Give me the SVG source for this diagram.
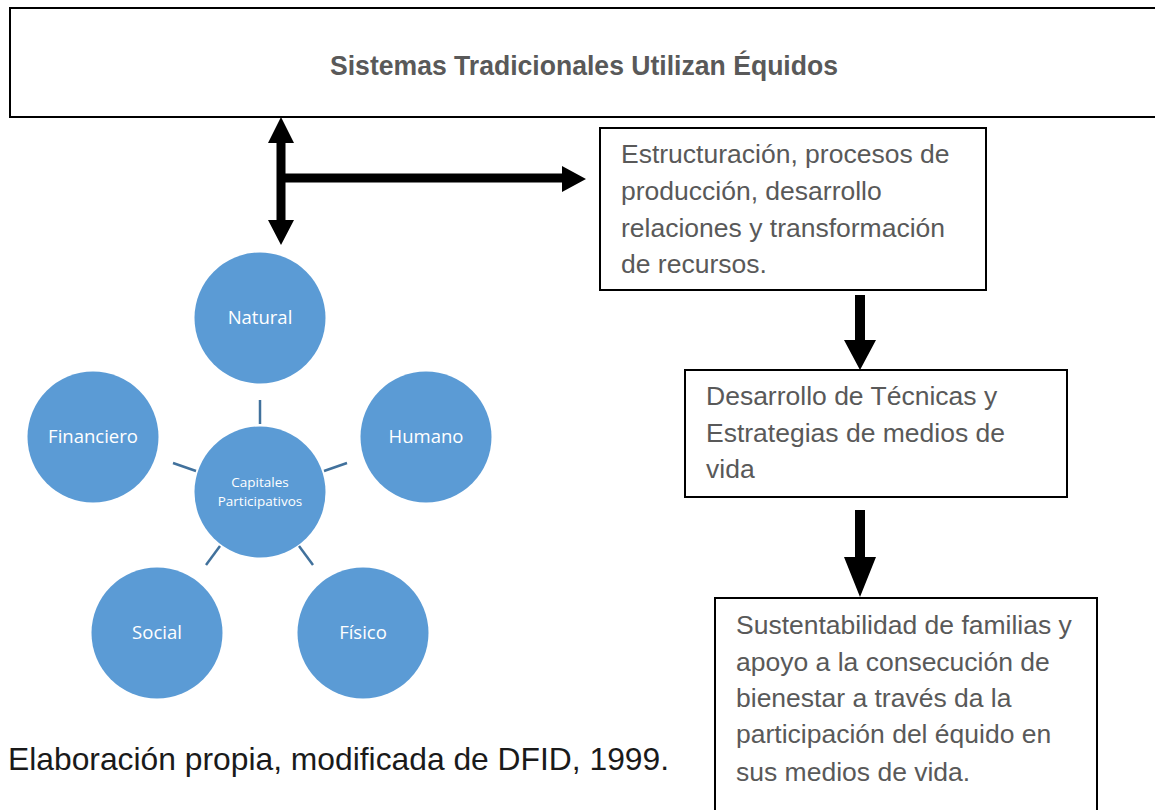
<svg xmlns="http://www.w3.org/2000/svg" width="1155" height="810" viewBox="0 0 1155 810">
<style>
.box{fill:#fff;stroke:#000;stroke-width:2}
.bt{font-family:"Liberation Sans",Arial,sans-serif;font-size:26.5px;fill:#595959}
.circ{fill:#5B9BD5}
.ct{font-family:"Open Sans","Noto Sans",sans-serif;font-size:18.5px;fill:#fff;text-anchor:middle}
.cs{font-family:"Open Sans","Noto Sans",sans-serif;font-size:13.5px;fill:#fff;text-anchor:middle}
.tick{stroke:#41719C;stroke-width:2.5}
.arr{fill:#000}
</style>
<rect width="1155" height="810" fill="#fff"/>
<g id="top">
<rect class="box" x="10" y="8" width="1160" height="109"/>
<text x="330" y="75" font-family="Liberation Sans,Arial,sans-serif" font-size="27" font-weight="bold" fill="#595959" textLength="508" lengthAdjust="spacingAndGlyphs">Sistemas Tradicionales Utilizan Équidos</text>
</g>
<g id="box1">
<rect class="box" x="600" y="128" width="386" height="162"/>
<text class="bt"><tspan x="621" y="163">Estructuración, procesos de</tspan><tspan x="621" y="200">producción, desarrollo</tspan><tspan x="621" y="236.5">relaciones y transformación</tspan><tspan x="621" y="273">de recursos.</tspan></text>
</g>
<g id="box2">
<rect class="box" x="685" y="370" width="382" height="127"/>
<text class="bt"><tspan x="706" y="405">Desarrollo de Técnicas y</tspan><tspan x="706" y="442">Estrategias de medios de</tspan><tspan x="706" y="478">vida</tspan></text>
</g>
<g id="box3">
<rect class="box" x="715" y="598" width="382" height="230"/>
<text class="bt"><tspan x="736" y="634">Sustentabilidad de familias y</tspan><tspan x="736" y="671">apoyo a la consecución de</tspan><tspan x="736" y="707">bienestar a través da la</tspan><tspan x="736" y="743">participación del équido en</tspan><tspan x="736" y="781">sus medios de vida.</tspan></text>
</g>
<g id="caption">
<text x="8" y="770" font-family="Liberation Sans,Arial,sans-serif" font-size="31.8" fill="#1a1a1a">Elaboración propia, modificada de DFID, 1999.</text>
</g>
<g id="connectors">
<polygon class="arr" points="281,117 294,143 285.5,143 285.5,220 294,220 281,245 268,220 276.5,220 276.5,143 268,143"/>
<polygon class="arr" points="285,173.5 562,173.5 562,166 586,179 562,192 562,182.5 285,182.5"/>
<polygon class="arr" points="855,295 865,295 865,340 876,340 860,370 844,340 855,340"/>
<polygon class="arr" points="855,510 865,510 865,557 876,557 860,597 844,557 855,557"/>
<line class="tick" x1="260" y1="400" x2="260" y2="424"/>
<line class="tick" x1="173" y1="463" x2="196" y2="471"/>
<line class="tick" x1="324" y1="471" x2="347" y2="463"/>
<line class="tick" x1="220" y1="546" x2="206" y2="565"/>
<line class="tick" x1="299" y1="546" x2="313" y2="565"/>
</g>
<g id="natural"><circle class="circ" cx="260" cy="318" r="65.5"/><text class="ct" x="260" y="324">Natural</text></g>
<g id="financiero"><circle class="circ" cx="93" cy="437" r="65.5"/><text class="ct" x="93" y="443">Financiero</text></g>
<g id="humano"><circle class="circ" cx="426" cy="437" r="65.5"/><text class="ct" x="426" y="443">Humano</text></g>
<g id="capitales"><circle class="circ" cx="260" cy="492" r="65.5"/><text class="cs"><tspan x="260" y="487">Capitales</tspan><tspan x="260" y="506">Participativos</tspan></text></g>
<g id="social"><circle class="circ" cx="157" cy="633" r="65.5"/><text class="ct" x="157" y="639">Social</text></g>
<g id="fisico"><circle class="circ" cx="363" cy="633" r="65.5"/><text class="ct" x="363" y="639">Físico</text></g>
</svg>
